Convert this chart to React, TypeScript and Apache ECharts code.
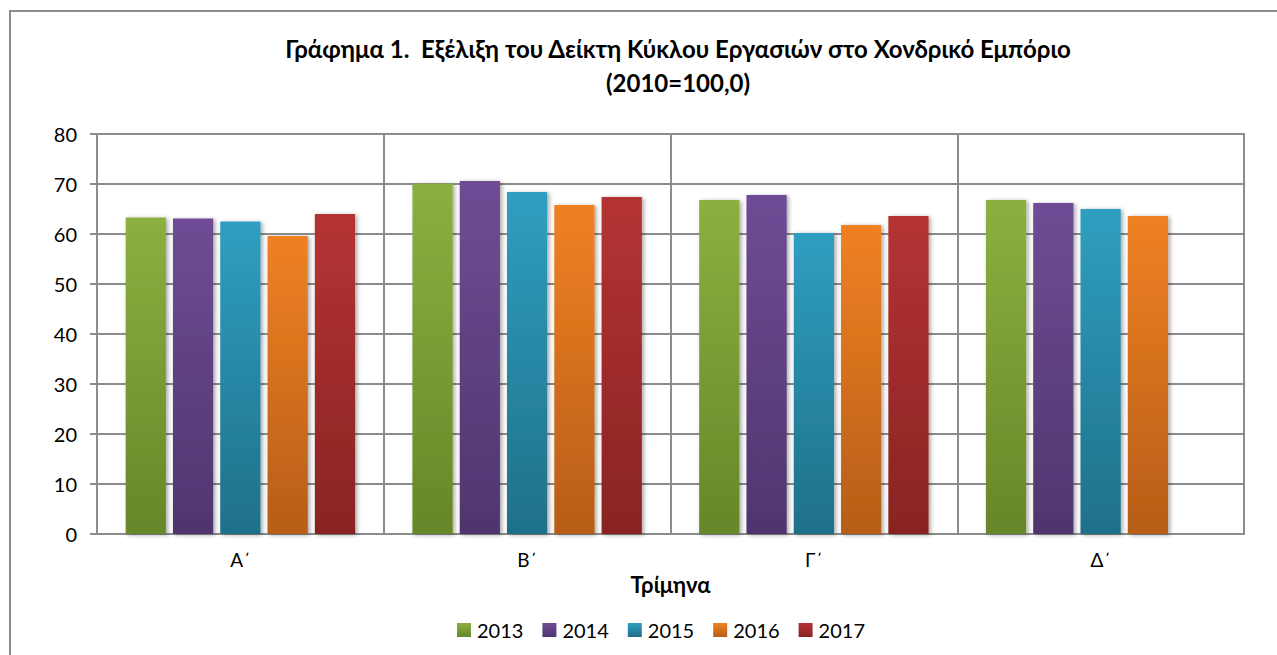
import React, { useEffect, useRef } from "react";
import * as echarts from "echarts";

const categories = ["Α΄", "Β΄", "Γ΄", "Δ΄"];
const seriesNames = ["2013", "2014", "2015", "2016", "2017"];
const v2013 = [63.3, 70.1, 66.8, 66.8];
const v2014 = [63.1, 70.6, 67.8, 66.2];
const v2015 = [62.5, 68.4, 60.2, 65.0];
const v2016 = [59.6, 65.8, 61.8, 63.6];
const v2017 = [64.0, 67.4, 63.6, null];
const yTicks = [0, 10, 20, 30, 40, 50, 60, 70, 80];

const colorsTop = ["#8CB03F", "#6F4C95", "#2F9FC0", "#F08123", "#B53333"];
const colorsBottom = ["#678629", "#4F356E", "#1F7089", "#B65D18", "#882423"];

const FONT = "Lato, 'Open Sans', sans-serif";

export default function App() {
  const ref = useRef<HTMLDivElement>(null);
  useEffect(() => {
    if (!ref.current) return;
    const chart = echarts.init(ref.current, null, { renderer: "svg" });
    const data = [v2013, v2014, v2015, v2016, v2017];
    chart.setOption({
      animation: false,
      textStyle: { fontFamily: FONT },
      title: {
        text: "Γράφημα 1.  Εξέλιξη του Δείκτη Κύκλου Εργασιών στο Χονδρικό Εμπόριο\n(2010=100,0)",
        left: 673,
        textAlign: "center",
        top: 26,
        textStyle: { fontFamily: FONT, fontSize: 24, fontWeight: "bold", color: "#000", lineHeight: 34 },
      },
      graphic: [
        {
          type: "rect",
          shape: { x: 10, y: 11, width: 1400, height: 800 },
          style: { fill: "none", stroke: "#8c8c8c", lineWidth: 2 },
          silent: true,
        },
      ],
      legend: {
        data: seriesNames,
        bottom: 10,
        left: 452,
        icon: "rect",
        itemWidth: 14,
        itemHeight: 14,
        itemGap: 19,
        textStyle: { fontFamily: FONT, fontSize: 20, color: "#000", padding: [0, 0, 0, 1] },
      },
      grid: { left: 97, right: 33, top: 134, bottom: 121, show: true, borderColor: "#8c8c8c", borderWidth: 2 },
      xAxis: {
        type: "category",
        data: categories,
        name: "Τρίμηνα",
        nameLocation: "middle",
        nameGap: 39,
        nameTextStyle: { fontFamily: FONT, fontSize: 22, fontWeight: "bold", color: "#000" },
        axisLine: { show: true, lineStyle: { color: "#8c8c8c", width: 2 } },
        axisTick: { show: false },
        axisLabel: { fontFamily: FONT, fontSize: 19, color: "#000", margin: 16 },
        splitLine: { show: true, interval: 0, lineStyle: { color: "#8c8c8c", width: 2 } },
      },
      yAxis: {
        type: "value",
        min: yTicks[0],
        max: yTicks[yTicks.length - 1],
        interval: 10,
        axisLine: { show: true, lineStyle: { color: "#8c8c8c", width: 2 } },
        axisTick: { show: true, length: 7, lineStyle: { color: "#8c8c8c", width: 2 } },
        axisLabel: { fontFamily: FONT, fontSize: 20, color: "#000", margin: 20 },
        splitLine: { show: true, lineStyle: { color: "#8c8c8c", width: 2 } },
      },
      series: seriesNames.map((name, i) => ({
        name,
        type: "bar",
        data: data[i],
        barGap: "17.5%",
        barCategoryGap: "20%",
        itemStyle: {
          color: new echarts.graphic.LinearGradient(0, 0, 0, 1, [
            { offset: 0, color: colorsTop[i] },
            { offset: 1, color: colorsBottom[i] },
          ]),
          shadowColor: "rgba(0,0,0,0.35)",
          shadowBlur: 4,
          shadowOffsetX: 2,
          shadowOffsetY: 1,
        },
      })),
    });
    return () => chart.dispose();
  }, []);
  return (
    <div
      ref={ref}
      style={{ position: "absolute", left: 0, top: 0, width: 1277, height: 655, background: "#fff" }}
    />
  );
}
